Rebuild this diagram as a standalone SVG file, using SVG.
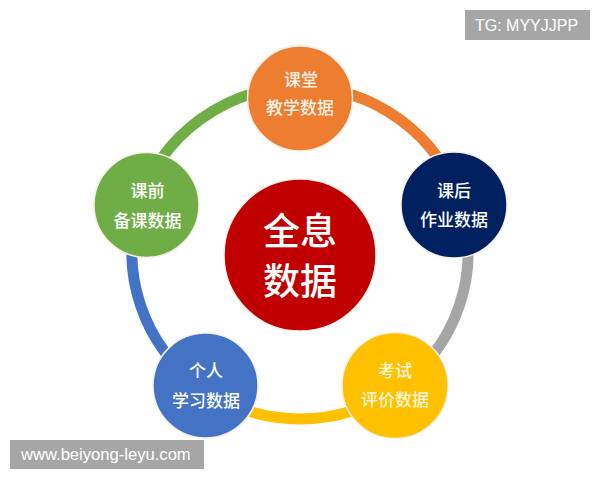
<svg xmlns="http://www.w3.org/2000/svg" width="600" height="480" viewBox="0 0 600 480">
<style>
.ring{fill:none;stroke-width:11}
.node{stroke:#f4f0e6;stroke-width:1.5}
.lbl{font-family:"Noto Sans CJK SC","Noto Sans",sans-serif;font-size:17px;font-weight:500;fill:#ffffff;text-anchor:middle}
.big{font-family:"Noto Sans CJK SC","Noto Sans",sans-serif;font-size:37px;font-weight:500;fill:#ffffff;text-anchor:middle}
.wm{font-family:"Liberation Sans",Arial,sans-serif;font-size:16px;fill:#ffffff}
</style>
<rect width="600" height="480" fill="#ffffff"/>
<g id="connectors">
<path class="ring" stroke="#ED7D31" d="M300,87 A168,166 0 0 1 460.4,203.6"/>
<path class="ring" stroke="#A5A5A5" d="M460.4,203.6 A168,166 0 0 1 398,387.8"/>
<path class="ring" stroke="#FFC000" d="M398,387.8 A168,166 0 0 1 202,387.8"/>
<path class="ring" stroke="#4472C4" d="M202,387.8 A168,166 0 0 1 139.6,203.6"/>
<path class="ring" stroke="#70AD47" d="M139.6,203.6 A168,166 0 0 1 300,87"/>
</g>
<g id="center">
<circle class="node" cx="300" cy="255" r="76" fill="#C00000"/>
<text class="big" x="300" y="245">全息</text>
<text class="big" x="300" y="295">数据</text>
</g>
<g id="node-top">
<circle class="node" cx="300" cy="98.5" r="52.5" fill="#ED7D31"/>
<text class="lbl" x="301" y="86" style="fill:#fdf1e4">课堂</text>
<text class="lbl" x="300" y="114" style="fill:#fdf1e4">教学数据</text>
</g>
<g id="node-right">
<circle class="node" cx="454" cy="205" r="53" fill="#002060"/>
<text class="lbl" x="454" y="197">课后</text>
<text class="lbl" x="454" y="226">作业数据</text>
</g>
<g id="node-bottom-right">
<circle class="node" cx="395" cy="385.5" r="53" fill="#FFC000"/>
<text class="lbl" x="395" y="377" style="fill:#fff6dc">考试</text>
<text class="lbl" x="395" y="406" style="fill:#fff6dc">评价数据</text>
</g>
<g id="node-bottom-left">
<circle class="node" cx="205.5" cy="385.5" r="52.5" fill="#4472C4"/>
<text class="lbl" x="206" y="377">个人</text>
<text class="lbl" x="206" y="407">学习数据</text>
</g>
<g id="node-left">
<circle class="node" cx="146.5" cy="205" r="52.5" fill="#70AD47"/>
<text class="lbl" x="147.5" y="197">课前</text>
<text class="lbl" x="147.5" y="227">备课数据</text>
</g>
<g id="watermark-tg">
<rect x="465" y="10" width="125" height="30" fill="#A6A6A6"/>
<text class="wm" x="475" y="31">TG: MYYJJPP</text>
</g>
<g id="watermark-url">
<rect x="10" y="440" width="194" height="29" fill="#A6A6A6"/>
<text class="wm" x="21" y="460" style="font-size:16.6px">www.beiyong-leyu.com</text>
</g>
</svg>
